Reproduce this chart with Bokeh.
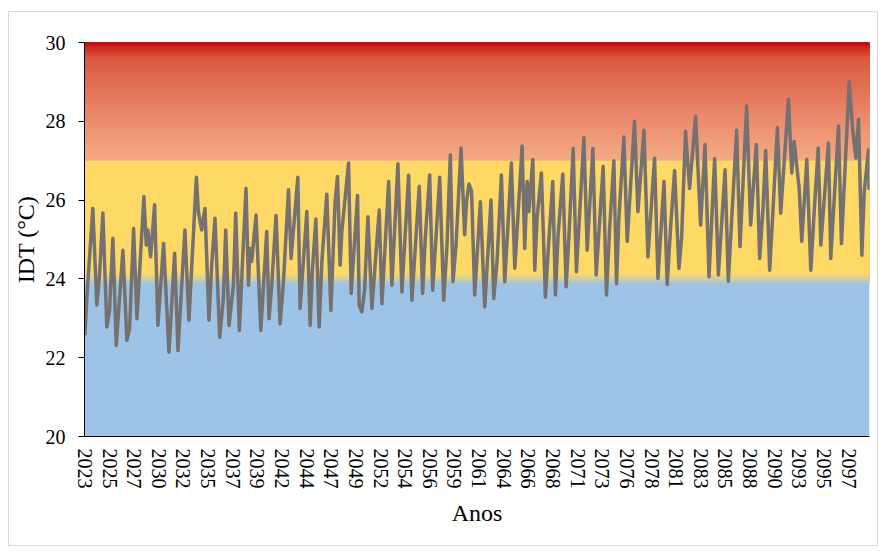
import numpy as np
from bokeh.plotting import figure
from bokeh.models import FixedTicker, Range1d, ColumnDataSource
from bokeh.embed import file_html
from bokeh.resources import INLINE

# ---------------- data ----------------
# Monthly series Jan 2023 .. Dec 2099 (924 months); turning points of the curve
month_index = [
    0.0, 2.2, 9.3, 14.0, 17.2, 21.1, 25.8, 29.0, 32.9, 36.9,
    44.7, 49.4, 52.6, 57.3, 61.2, 69.4, 72.2, 74.1, 77.3, 82.0,
    85.9, 92.6, 98.9, 105.6, 109.5, 117.7, 122.4, 131.2, 133.5, 137.4,
    141.3, 146.0, 149.2, 153.1, 158.6, 163.0, 165.7, 169.6, 174.8, 177.5,
    181.8, 184.6, 189.6, 192.5, 194.3, 196.3, 201.4, 207.0, 214.0, 216.7,
    219.9, 225.0, 229.7, 233.7, 239.6, 242.7, 250.6, 253.3, 261.2, 265.1,
    267.9, 271.8, 275.7, 278.9, 284.7, 289.5, 294.5, 297.3, 300.4, 302.4,
    310.3, 313.4, 320.9, 322.8, 326.0, 329.2, 333.1, 337.8, 346.4, 349.6,
    353.4, 357.5, 361.3, 368.4, 373.1, 381.0, 384.9, 393.5, 397.5, 400.6,
    405.8, 409.3, 412.4, 417.6, 422.3, 426.2, 430.1, 433.2, 436.8, 442.7,
    447.0, 449.2, 452.0, 455.1, 458.8, 465.5, 470.6, 478.0, 481.2, 485.1,
    490.2, 494.2, 502.0, 506.0, 514.6, 517.7, 520.5, 522.5, 527.2, 529.5,
    532.2, 537.3, 542.0, 546.0, 550.7, 553.8, 557.0, 562.5, 566.4, 569.6,
    574.7, 578.5, 587.3, 591.2, 597.9, 601.8, 610.0, 613.9, 617.5, 622.6,
    625.7, 628.5, 634.4, 638.3, 646.9, 650.9, 658.0, 662.7, 670.5, 674.5,
    681.6, 685.4, 689.3, 694.1, 699.2, 702.3, 707.0, 711.7, 718.8, 724.7,
    729.9, 734.6, 741.2, 745.6, 753.5, 757.3, 767.1, 771.1, 778.9, 783.6,
    790.3, 794.2, 798.2, 801.3, 806.0, 810.0, 815.1, 819.0, 828.1, 832.0,
    834.8, 840.7, 843.8, 849.7, 854.4, 858.4, 863.1, 866.2, 875.2, 877.9,
    887.0, 890.5, 899.6, 903.5, 907.4, 910.6, 914.5, 917.3, 922.4, 923.0,
]
idt = [
    22.57, 23.50, 25.79, 23.34, 24.10, 25.67, 22.78, 23.20, 25.03, 22.31,
    24.73, 22.44, 22.74, 25.28, 22.99, 26.09, 24.86, 25.24, 24.56, 25.88,
    22.82, 24.90, 22.14, 24.65, 22.18, 25.24, 22.95, 26.58, 25.71, 25.24,
    25.79, 22.95, 24.35, 25.54, 22.52, 23.50, 25.24, 22.82, 23.84, 25.67,
    22.69, 24.01, 26.30, 23.84, 24.77, 24.44, 25.62, 22.69, 25.20, 22.99,
    23.84, 25.61, 22.86, 23.93, 26.26, 24.52, 26.58, 23.25, 25.71, 22.82,
    24.27, 25.52, 22.78, 24.44, 26.15, 23.20, 25.96, 26.60, 24.35, 25.20,
    26.94, 23.63, 26.12, 23.33, 23.16, 23.71, 25.58, 23.25, 25.75, 23.37,
    24.86, 26.47, 23.84, 26.92, 23.67, 26.63, 23.46, 26.35, 23.63, 25.03,
    26.64, 23.71, 24.77, 26.58, 23.46, 24.86, 27.15, 23.93, 24.86, 27.32,
    25.12, 25.96, 26.41, 26.22, 23.59, 25.96, 23.29, 26.00, 23.50, 24.44,
    26.64, 23.93, 26.94, 24.27, 27.37, 24.77, 26.47, 25.71, 27.03, 24.22,
    25.54, 26.69, 23.54, 24.95, 26.47, 23.59, 25.12, 26.66, 23.80, 25.03,
    27.31, 24.18, 27.58, 24.73, 27.31, 24.10, 26.86, 23.59, 25.24, 27.00,
    23.88, 25.54, 27.60, 24.95, 28.00, 25.71, 27.77, 24.56, 27.07, 24.01,
    26.47, 23.86, 25.28, 26.75, 24.27, 25.03, 27.75, 26.30, 28.13, 25.37,
    27.41, 24.05, 27.05, 24.10, 26.77, 23.94, 27.77, 24.82, 28.39, 25.37,
    27.41, 24.52, 25.79, 27.26, 24.22, 25.79, 27.84, 25.67, 28.56, 26.69,
    27.49, 26.30, 24.95, 27.03, 24.22, 25.71, 27.32, 24.86, 27.45, 24.52,
    27.88, 24.90, 29.00, 27.84, 27.07, 28.05, 24.60, 26.22, 27.28, 26.26,
]
n_months = 924
first_year = 2023
label_every_months = 29
tick_labels = ["2023", "2025", "2027", "2030", "2032", "2035", "2037", "2039",
               "2042", "2044", "2047", "2049", "2052", "2054", "2056", "2059",
               "2061", "2064", "2066", "2068", "2071", "2073", "2076", "2078",
               "2081", "2083", "2085", "2088", "2090", "2093", "2095", "2097"]
y_ticks = [20, 22, 24, 26, 28, 30]
zone_low = 24.0    # blue / yellow limit
zone_high = 27.0   # yellow / red limit

# ---------------- figure ----------------
FONT = "Liberation Serif"
x0, x1 = -0.5, n_months - 0.5
p = figure(width=870, height=535, output_backend="svg", toolbar_location=None,
           x_range=Range1d(x0, x1), y_range=Range1d(20, 30),
           min_border_left=73, min_border_right=10, min_border_top=30,
           min_border_bottom=111)
p.margin = (11, 0, 0, 8)
p.styles = {"border": "1px solid #d9d9d9"}
p.background_fill_color = "white"
p.border_fill_color = "white"
p.outline_line_color = None
p.grid.visible = False

# background bands: strips stacked from the bottom, each reaching the top,
# so that the later ones cover the earlier ones without seams
def lerp_stops(stops, v):
    vals = [s[0] for s in stops]
    cols = np.array([s[1] for s in stops], dtype=float)
    return tuple(int(round(np.interp(v, vals, cols[:, k]))) for k in range(3))

blue = (157, 195, 230)
yellow = (255, 217, 102)
blend = 0.15
stops = [(20.0, blue), (zone_low - blend, blue), (zone_low + blend, yellow),
         (zone_high - 0.001, yellow), (zone_high, (244, 172, 131)),
         (28.2, (233, 135, 106)), (29.0, (225, 108, 80)), (29.6, (217, 88, 64)),
         (29.88, (205, 40, 30)), (30.0, (192, 0, 0))]
starts = [20.0]
starts += list(np.linspace(zone_low - blend, zone_low + blend, 13)[:-1])
starts += list(np.linspace(zone_high, 30.0, 121)[:-1])
bottoms, colors = [], []
for i, b in enumerate(starts):
    top = starts[i + 1] if i + 1 < len(starts) else 30.0
    mid = b if i == 0 else (b + top) / 2
    if i == 0 or b == zone_high:
        c = lerp_stops(stops, b + 1e-6) if b == zone_high else blue
    else:
        c = lerp_stops(stops, mid)
    bottoms.append(b)
    colors.append("#%02x%02x%02x" % c)
# yellow base for the zone between blend and red
yel_idx = len([s for s in starts if s < zone_low + blend])
bottoms.insert(yel_idx, zone_low + blend)
colors.insert(yel_idx, "#%02x%02x%02x" % yellow)
bg = ColumnDataSource(dict(bottom=bottoms, top=[30.0] * len(bottoms), color=colors,
                           left=[x0] * len(bottoms), right=[x1] * len(bottoms)))
p.quad(left="left", right="right", bottom="bottom", top="top",
       fill_color="color", line_color=None, source=bg)

# series
p.line(month_index, idt, line_color="#767171", line_width=3.5, line_join="round")

# axes
tick_pos = [i * label_every_months for i in range(len(tick_labels))]
p.xaxis.ticker = FixedTicker(ticks=tick_pos)
p.xaxis.major_label_overrides = {t: lab for t, lab in zip(tick_pos, tick_labels)}
p.xaxis.major_label_orientation = "vertical"
p.xaxis.major_tick_out = 0
p.xaxis.major_tick_in = 0
p.xaxis.minor_tick_out = 0
p.xaxis.minor_tick_in = 0
p.xaxis.major_label_standoff = 12
p.xaxis.axis_label = "Anos"
p.xaxis.axis_label_standoff = 8

p.yaxis.ticker = FixedTicker(ticks=y_ticks)
p.yaxis.major_tick_out = 6
p.yaxis.major_tick_in = 0
p.yaxis.minor_tick_out = 0
p.yaxis.minor_tick_in = 0
p.yaxis.major_label_standoff = 13
p.yaxis.axis_label = "IDT (°C)"
p.yaxis.axis_label_standoff = 4

for ax in (p.xaxis, p.yaxis):
    ax.axis_line_color = "black"
    ax.axis_line_width = 1
    ax.major_tick_line_color = "black"
    ax.major_label_text_font = FONT
    ax.major_label_text_font_size = "20px"
    ax.major_label_text_color = "black"
    ax.axis_label_text_font = FONT
    ax.axis_label_text_font_size = "24px"
    ax.axis_label_text_font_style = "normal"
    ax.axis_label_text_color = "black"

open("out.html", "w").write(file_html(p, INLINE))
